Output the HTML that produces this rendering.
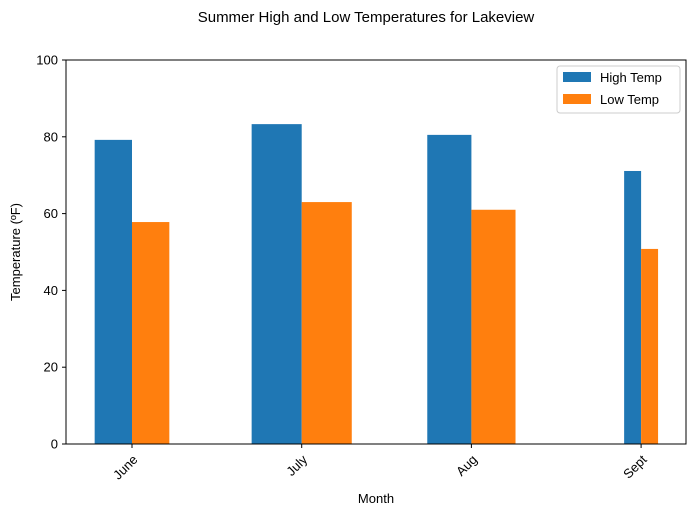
<!DOCTYPE html>
<html><head><meta charset="utf-8"><style>
body{margin:0;background:#fff;font-family:"Liberation Sans","DejaVu Sans",sans-serif;}
svg text{font-family:"Liberation Sans","DejaVu Sans",sans-serif;}
</style></head><body>
<svg id="chart" width="695" height="516" xmlns="http://www.w3.org/2000/svg">
<text x="366" y="22" font-size="15" text-anchor="middle">Summer High and Low Temperatures for Lakeview</text>
<g id="marks"></g>
<rect x="66" y="60" width="620" height="384" fill="none" stroke="#000" stroke-width="1"/>
<g id="axes"></g>
<text x="376" y="503" font-size="13" text-anchor="middle">Month</text>
<text transform="translate(20,252) rotate(-90)" font-size="13" text-anchor="middle">Temperature (ºF)</text>
<g>
<rect x="557" y="66" width="123" height="47" fill="#fff" stroke="#ccc" rx="3"/>
<rect x="563" y="72" width="28" height="10" fill="#1f77b4"/>
<text x="600" y="82" font-size="13">High Temp</text>
<rect x="563" y="94" width="28" height="10" fill="#ff7f0e"/>
<text x="600" y="104" font-size="13">Low Temp</text>
</g>
</svg>
<script>
const categories=["June","July","Aug","Sept"];
const highTemps=[79.2,83.3,80.5,71.1];
const lowTemps=[57.8,63.0,61.0,50.8];
const barWidths=[0.22,0.295,0.26,0.1];
const yTicks=[0,20,40,60,80,100];
const NS="http://www.w3.org/2000/svg";
const x0=132,xStep=169.7,yBottom=444,yTop=60,yMax=100;
const xs=i=>x0+i*xStep;
const ys=v=>yBottom-(v/yMax)*(yBottom-yTop);
const marks=document.getElementById('marks'),axes=document.getElementById('axes');
function mk(t,a,p){const e=document.createElementNS(NS,t);for(const k in a)e.setAttribute(k,a[k]);p.appendChild(e);return e;}
categories.forEach((c,i)=>{
  const w=barWidths[i]*xStep,cx=xs(i);
  const h=mk('rect',{x:cx-w,y:ys(highTemps[i]),width:w,height:yBottom-ys(highTemps[i]),fill:'#1f77b4'},marks);
  
  
  const l=mk('rect',{x:cx,y:ys(lowTemps[i]),width:w,height:yBottom-ys(lowTemps[i]),fill:'#ff7f0e'},marks);
  
  
  mk('line',{x1:cx,x2:cx,y1:444,y2:448,stroke:'#000'},axes);
  const t=mk('text',{transform:`translate(${cx+4},${458}) rotate(-45)`,'font-size':13,'text-anchor':'end','dominant-baseline':'middle'},axes);
  t.textContent=c;
  
  
});
yTicks.forEach(v=>{
  const y=ys(v);
  mk('line',{x1:62,x2:66,y1:y,y2:y,stroke:'#000'},axes);
  const t=mk('text',{x:58,y:y+4.5,'font-size':13,'text-anchor':'end'},axes);
  t.textContent=v;
  
  
});
</script>
</body></html>
